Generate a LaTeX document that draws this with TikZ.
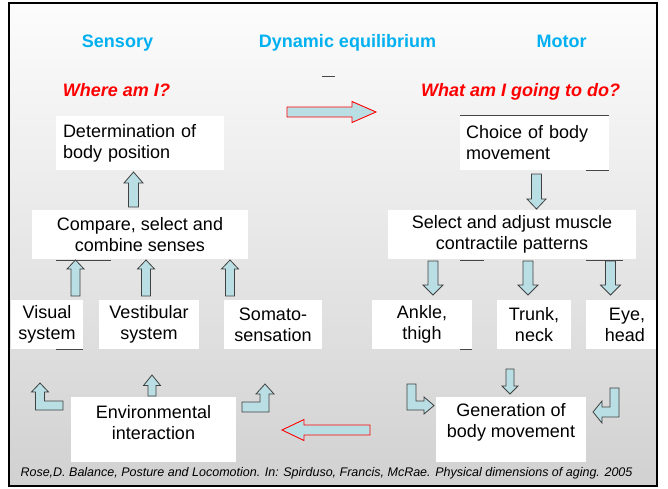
\documentclass[tikz,border=0pt]{standalone}
\usepackage{fontspec}
\setmainfont{Liberation Sans}
\definecolor{arrowblue}{RGB}{185,223,228}
\definecolor{headblue}{RGB}{0,176,240}
\definecolor{strayline}{RGB}{70,70,70}

% vertical block arrow: x, tip y, head base y, tail y, half shaft, half head
\newcommand{\vblock}[6]{%
  \draw[blockarrow] (#1-#5,#4) -- (#1-#5,#3) -- (#1-#6,#3) -- (#1,#2)
    -- (#1+#6,#3) -- (#1+#5,#3) -- (#1+#5,#4) -- cycle;}
% horizontal block arrow: y, tip x, head base x, tail x, half shaft, half head
\newcommand{\hblock}[6]{%
  \draw[redarrow] (#4,#1-#5) -- (#3,#1-#5) -- (#3,#1-#6) -- (#2,#1)
    -- (#3,#1+#6) -- (#3,#1+#5) -- (#4,#1+#5) -- cycle;}

\begin{document}
\begin{tikzpicture}[x=1pt, y=-1pt,
    box/.style={rectangle, fill=white, inner sep=0pt, align=center,
      font=\fontsize{18}{21}\selectfont},
    title/.style={anchor=base, text=headblue, font=\bfseries\fontsize{18}{21}\selectfont},
    question/.style={anchor=base, text=red, font=\bfseries\itshape\fontsize{18}{21}\selectfont},
    blockarrow/.style={draw=black!75, fill=arrowblue, line width=0.8pt, line join=miter},
    redarrow/.style={draw=red, fill=arrowblue, line width=0.9pt},
    stray/.style={draw=strayline, line width=0.9pt}]
  \useasboundingbox (0,0) rectangle (668,488);
  % Background and frame
  \shade[top color=black!1, bottom color=black!18] (8.5,3) rectangle (657,485.5);
  \draw[line width=2pt] (8.5,3) rectangle (657,485.5);

  % Titles
  \node (sensory) [title] at (117.5,47) {Sensory};
  \node (dyn) [title] at (347.5,47) {Dynamic equilibrium};
  \node (motor) [title] at (561.5,47) {Motor};
  \node (where) [question] at (116.5,96) {Where am I?};
  \node (what) [question] at (520.5,96) {What am I going to do?};

  % Sensory side
  \node (pos) [box, align=left, text width=154pt, inner xsep=7pt, minimum height=54pt] at (140,143) {Determination of\\body position};
  \node (cmp) [box, minimum width=216pt, minimum height=49pt] at (140,234.5) {Compare, select and\\combine senses};
  \node (vis) [box, minimum width=72pt, minimum height=49pt] at (47,324.5) {Visual\\system};
  \node (vest) [box, minimum width=100pt, minimum height=49pt] at (149,324.5) {Vestibular\\system};
  \node (soma) [box, minimum width=98pt, minimum height=49pt] at (273,324.5) {Somato-\\sensation};
  \node (env) [box, minimum width=165pt, minimum height=65pt] at (153.5,429.5) {\parbox[c][48pt][t]{165pt}{\centering Environmental\\interaction}};

  % Motor side
  \node (choice) [box, align=left, text width=137pt, inner xsep=6pt, minimum height=55pt] at (534.5,142.5) {Choice of body\\movement};
  \node (sel) [box, minimum width=248pt, minimum height=49pt] at (512,234.5) {Select and adjust muscle\\contractile patterns};
  \node (ankle) [box, minimum width=100pt, minimum height=49pt] at (422,324.5) {Ankle,\\thigh};
  \node (trunk) [box, minimum width=74pt, minimum height=49pt] at (534,324.5) {Trunk,\\neck};
  \node (eye) [box, align=right, text width=48pt, inner xsep=11pt, minimum height=49pt] at (621,324.5) {Eye,\\head};
  \node (gen) [box, minimum width=150pt, minimum height=65pt] at (511,429.5) {\parbox[c][52pt][t]{150pt}{\centering Generation of\\body movement}};

  % Source
  \node (src) [anchor=base, font=\itshape\fontsize{12.5}{14}\selectfont] at (326.5,476) {Rose,D. Balance, Posture and Locomotion. In: Spirduso, Francis, McRae. Physical dimensions of aging. 2005};

  % Block arrows
  \vblock{133.5}{172}{183}{207}{5}{9.5}
  \vblock{75.5}{260}{269}{296}{4.5}{8.5}
  \vblock{146}{260}{269}{296}{4.5}{8.5}
  \vblock{230}{260}{269}{296}{4.5}{8.5}
  \vblock{152}{375}{385.5}{396}{4}{8.5}
  \vblock{536.5}{209}{199}{174}{5}{9.5}
  \vblock{433}{295}{285}{261}{5}{10}
  \vblock{528}{295}{285}{261}{5}{10}
  \vblock{610.5}{295}{285}{261}{5}{10}
  \vblock{510}{394}{386}{369}{4}{8}

  % Elbow arrows
  \draw[blockarrow] (35.5,410) -- (35.5,392) -- (31.5,392) -- (40,383) -- (48.5,392)
    -- (44.5,392) -- (44.5,401) -- (63,401) -- (63,410) -- cycle;
  \draw[blockarrow] (242,412) -- (242,402) -- (260,402) -- (260,394) -- (256,394)
    -- (265,384) -- (274,394) -- (269,394) -- (269,412) -- cycle;
  \draw[blockarrow] (407,384) -- (416,384) -- (416,401) -- (424,401) -- (424,397)
    -- (434,405.5) -- (424,414) -- (424,410) -- (407,410) -- cycle;
  \draw[blockarrow] (619,388) -- (610,388) -- (610,407) -- (602,407) -- (602,401)
    -- (593,412) -- (602,423) -- (602,417) -- (619,417) -- cycle;

  % Red arrows
  \hblock{112}{376}{352}{287}{5}{10.5}
  \hblock{430}{282}{304}{370}{5}{10.5}

  % Stray marks
  \draw[stray] (322,76) -- (335,76);
  \draw[stray] (56,260) -- (111,260);
  \draw[stray] (56,349) -- (83,349);
  \draw[stray] (460,115) -- (609,115);
  \draw[stray] (586,170) -- (609,170);
  \draw[stray] (460,260) -- (484,260);
  \draw[stray] (586,260) -- (623,260);
  \draw[stray] (460,349) -- (472,349);
\end{tikzpicture}
\end{document}
